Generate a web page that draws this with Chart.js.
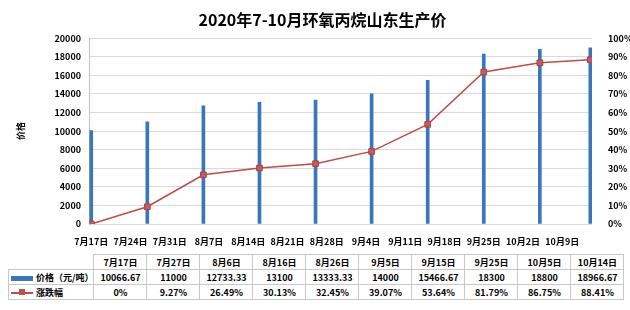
<!DOCTYPE html>
<html>
<head>
<meta charset="utf-8">
<script src="https://cdn.jsdelivr.net/npm/chart.js@4/dist/chart.umd.min.js"></script>
<style>
  body { margin: 0; background: #fff; font-family: 'Noto Sans CJK SC', sans-serif; }
  #wrap { position: relative; width: 630px; height: 310px; }
  #box { position: absolute; left: 0; top: 0; width: 630px; height: 246px; }
  table { position: absolute; left: 8px; top: 254px; border-collapse: collapse; font-size: 9px; font-weight: bold; color: #000; }
  td { border: 1px solid #c8c8c8; height: 14px; padding: 0; text-align: center; width: 52px; white-space: nowrap; }
  td.lg { width: 78px; text-align: left; padding-left: 2px; }
  td.blank { border: none; }
  .sw { display: inline-block; vertical-align: middle; margin-right: 3px; }
  .bar { width: 22px; height: 5px; background: #3b76bd; }
  .ln { width: 22px; height: 2px; background: #be4b48; position: relative; }
  .ln i { position: absolute; left: 8px; top: -3px; width: 6px; height: 6px; background: #c0504d; }
</style>
</head>
<body>
<div id="wrap">
  <div id="box"><canvas id="chart"></canvas></div>
  <table id="tbl"></table>
</div>
<script>
const dateLabels = ['7月17日', '7月27日', '8月6日', '8月16日', '8月26日', '9月5日', '9月15日', '9月25日', '10月5日', '10月14日'];
const prices = [10066.67, 11000, 12733.33, 13100, 13333.33, 14000, 15466.67, 18300, 18800, 18966.67];
const changes = [0, 9.27, 26.49, 30.13, 32.45, 39.07, 53.64, 81.79, 86.75, 88.41];
const tickLabels = ['7月17日', '7月24日', '7月31日', '8月7日', '8月14日', '8月21日', '8月28日', '9月4日', '9月11日', '9月18日', '9月25日', '10月2日', '10月9日'];
const priceTicks = [0, 2000, 4000, 6000, 8000, 10000, 12000, 14000, 16000, 18000, 20000];
const pctTicks = [0, 10, 20, 30, 40, 50, 60, 70, 80, 90, 100];

const start = new Date(2020, 6, 17);
const toDay = (label) => {
    const m = label.match(/(\d+)月(\d+)日/);
    return Math.round((new Date(2020, m[1] - 1, +m[2]) - start) / 86400000);
};
const tickDays = tickLabels.map(toDay);
const labelOf = {};
tickDays.forEach((d, i) => { labelOf[d] = tickLabels[i]; });

const font = { family: "'Noto Sans CJK SC', sans-serif", size: 9, weight: 'bold' };

new Chart(document.getElementById('chart'), {
    data: {
        datasets: [{
            type: 'line',
            label: '涨跌幅',
            data: dateLabels.map((l, i) => ({ x: toDay(l), y: changes[i] })),
            yAxisID: 'y1',
            borderColor: '#be4b48',
            borderWidth: 1.5,
            pointStyle: 'rect',
            pointRadius: 4,
            pointBackgroundColor: '#c9595a',
            pointBorderColor: '#b0403e',
            pointBorderWidth: 1,
            order: 1
        }, {
            type: 'bar',
            label: '价格（元/吨）',
            data: dateLabels.map((l, i) => ({ x: toDay(l), y: prices[i] })),
            yAxisID: 'y',
            backgroundColor: '#3b76bd',
            barThickness: 3,
            order: 2
        }]
    },
    options: {
        responsive: true,
        maintainAspectRatio: false,
        animation: false,
        layout: { padding: { left: 15, right: 0, top: 0, bottom: 0 } },
        plugins: {
            legend: { display: false },
            tooltip: { enabled: false },
            title: {
                display: true,
                text: '2020年7-10月环氧丙烷山东生产价',
                color: '#000',
                font: { family: "'Noto Sans CJK SC', sans-serif", size: 16, weight: 'bold' },
                padding: { top: 10, bottom: 9 }
            }
        },
        scales: {
            x: {
                type: 'linear',
                offset: false,
                min: -0.4,
                max: 89.3,
                grid: { display: false, offset: false },
                border: { display: false },
                afterBuildTicks: (scale) => { scale.ticks = tickDays.map(v => ({ value: v })); },
                afterFit: (scale) => { scale.height = 22; },
                ticks: {
                    autoSkip: false,
                    maxRotation: 0,
                    color: '#000',
                    font: font,
                    padding: 4,
                    callback: (v) => labelOf[v] || ''
                }
            },
            y: {
                position: 'left',
                min: 0,
                max: 20000,
                afterBuildTicks: (scale) => { scale.ticks = priceTicks.map(v => ({ value: v })); },
                afterFit: (scale) => { scale.width = 74; },
                grid: { color: '#d9d9d9', drawTicks: false },
                border: { color: '#c0c0c0' },
                title: { display: true, text: '价格', color: '#000', font: font, padding: 0 },
                ticks: { color: '#000', font: font, padding: 8, callback: (v) => String(v) }
            },
            y1: {
                position: 'right',
                min: 0,
                max: 100,
                afterBuildTicks: (scale) => { scale.ticks = pctTicks.map(v => ({ value: v })); },
                afterFit: (scale) => { scale.width = 38; },
                grid: { display: false },
                border: { display: false },
                ticks: { color: '#000', font: font, padding: 8, callback: (v) => v + '%' }
            }
        }
    }
});

const tbl = document.getElementById('tbl');
let html = '<tr><td class="blank lg"></td>' + dateLabels.map(l => '<td>' + l + '</td>').join('') + '</tr>';
html += '<tr><td class="lg"><span class="sw bar"></span>价格（元/吨）</td>' + prices.map(v => '<td>' + v + '</td>').join('') + '</tr>';
html += '<tr><td class="lg"><span class="sw ln"><i></i></span>涨跌幅</td>' + changes.map(v => '<td>' + v + '%</td>').join('') + '</tr>';
tbl.innerHTML = html;
</script>
</body>
</html>
